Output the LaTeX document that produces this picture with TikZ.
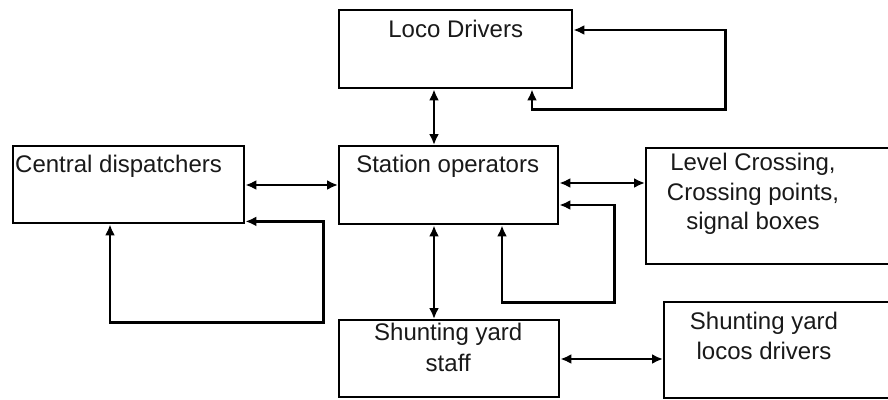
\documentclass[tikz,border=0pt]{standalone}
\usepackage{fontspec}
\setmainfont{Liberation Sans}
\usetikzlibrary{arrows.meta}
\begin{document}
\begin{tikzpicture}[x=1pt,y=-1pt,
  box/.style={draw, line width=2.4pt, inner sep=0pt, anchor=north west},
  txt/.style={inner sep=0pt, font=\fontsize{24}{29.5}\selectfont, align=center, text=black!90},
  link/.style={line width=2.4pt, {Latex[length=11pt,width=10pt]}-{Latex[length=11pt,width=10pt]}}]
\useasboundingbox[fill=white] (0,0) rectangle (888,399);
% boxes
\node[box, minimum width=233pt, minimum height=78pt] (loco) at (338,9) {};
\node[box, minimum width=219pt, minimum height=78pt] (station) at (338,145) {};
\node[box, minimum width=231pt, minimum height=77pt] (central) at (12,145) {};
\node[box, minimum width=250pt, minimum height=116pt] (level) at (645,147) {};
\node[box, minimum width=220pt, minimum height=77pt] (staff) at (338,319) {};
\node[box, minimum width=232pt, minimum height=96pt] (locosdrv) at (663,301) {};
% texts
\node[txt, anchor=north] (lococ) at ([yshift=-11pt]loco.north) {Loco Drivers};
\node[txt, anchor=north] (stationc) at ([xshift=-1pt,yshift=-10pt]station.north) {Station operators};
\node[txt, anchor=north west] (centralc) at ([xshift=3pt,yshift=-10pt]central.north west) {Central dispatchers};
\node[txt, anchor=north] (levelc) at ([xshift=108pt,yshift=-6pt]level.north west) {Level Crossing,\\Crossing points,\\signal boxes};
\node[txt, anchor=north, font=\fontsize{24}{31}\selectfont] (staffc) at ([xshift=-1pt,yshift=-4pt]staff.north) {Shunting yard\\staff};
\node[txt, anchor=north] (locosdrvc) at ([xshift=101pt,yshift=-11pt]locosdrv.north west) {Shunting yard\\locos drivers};
% connectors
\draw[link] ([xshift=96pt]loco.south west) -- ([xshift=96pt]station.north west);
\draw[link] ([xshift=96pt]station.south west) -- ([xshift=96pt]staff.north west);
\draw[link] ([yshift=-40pt]central.north east) -- ([yshift=-40pt]station.north west);
\draw[link] ([yshift=-38pt]station.north east) -- ([yshift=-36pt]level.north west);
\draw[link] ([yshift=-40pt]staff.north east) -- ([yshift=-58pt]locosdrv.north west);
% loops
\draw[link] ([xshift=194pt]loco.south west) -- ++(0,20) -| ([xshift=152pt,yshift=-21pt]loco.north east) -- ([yshift=-21pt]loco.north east);
\draw[link] ([xshift=98pt]central.south west) -- ++(0,98) -| ([xshift=78pt,yshift=3pt]central.south east) -- ([yshift=3pt]central.south east);
\draw[link] ([xshift=164pt]station.south west) -- ++(0,77) -| ([xshift=55pt,yshift=-60pt]station.north east) -- ([yshift=-60pt]station.north east);
\end{tikzpicture}
\end{document}
